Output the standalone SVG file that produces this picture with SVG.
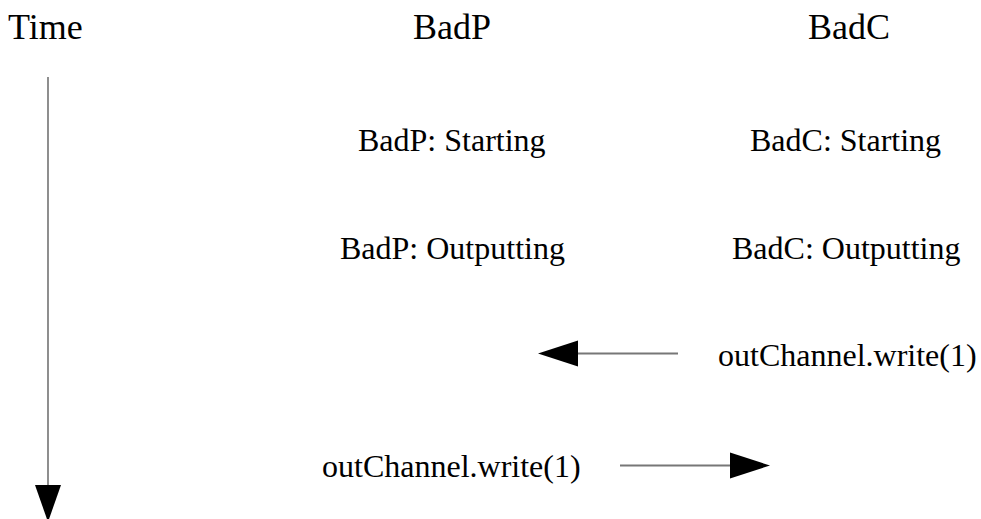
<svg xmlns="http://www.w3.org/2000/svg" width="981" height="519" viewBox="0 0 981 519">
<style>
text{font-family:"Liberation Serif","Times New Roman",serif;fill:#000}
.h{font-size:36px}
.t{font-size:32px}
.ln{stroke:#777;stroke-width:2;fill:none}
.hd{fill:#000;stroke:none}
</style>
<rect width="981" height="519" fill="#fff"/>
<g id="header-time"><text class="h" x="8" y="39">Time</text></g>
<g id="header-badp"><text class="h" x="413" y="39">BadP</text></g>
<g id="header-badc"><text class="h" x="808" y="39">BadC</text></g>
<g id="badp-starting"><text class="t" x="358" y="151">BadP: Starting</text></g>
<g id="badc-starting"><text class="t" x="750" y="151">BadC: Starting</text></g>
<g id="badp-outputting"><text class="t" x="340" y="259">BadP: Outputting</text></g>
<g id="badc-outputting"><text class="t" x="732" y="259">BadC: Outputting</text></g>
<g id="badc-write"><text class="t" x="718" y="366">outChannel.write(1)</text></g>
<g id="badp-write"><text class="t" x="322" y="477">outChannel.write(1)</text></g>
<g id="connectors">
<line x1="48" y1="77" x2="48" y2="486" stroke="#444" stroke-width="1.2"/>
<polygon class="hd" points="35,485 61,485 48,522"/>
<line class="ln" x1="678" y1="353.5" x2="576" y2="353.5"/>
<polygon class="hd" points="578,340.5 578,366.5 538,353.5"/>
<line class="ln" x1="620" y1="465.5" x2="732" y2="465.5"/>
<polygon class="hd" points="730,452.5 730,478.5 770,465.5"/>
</g>
</svg>
